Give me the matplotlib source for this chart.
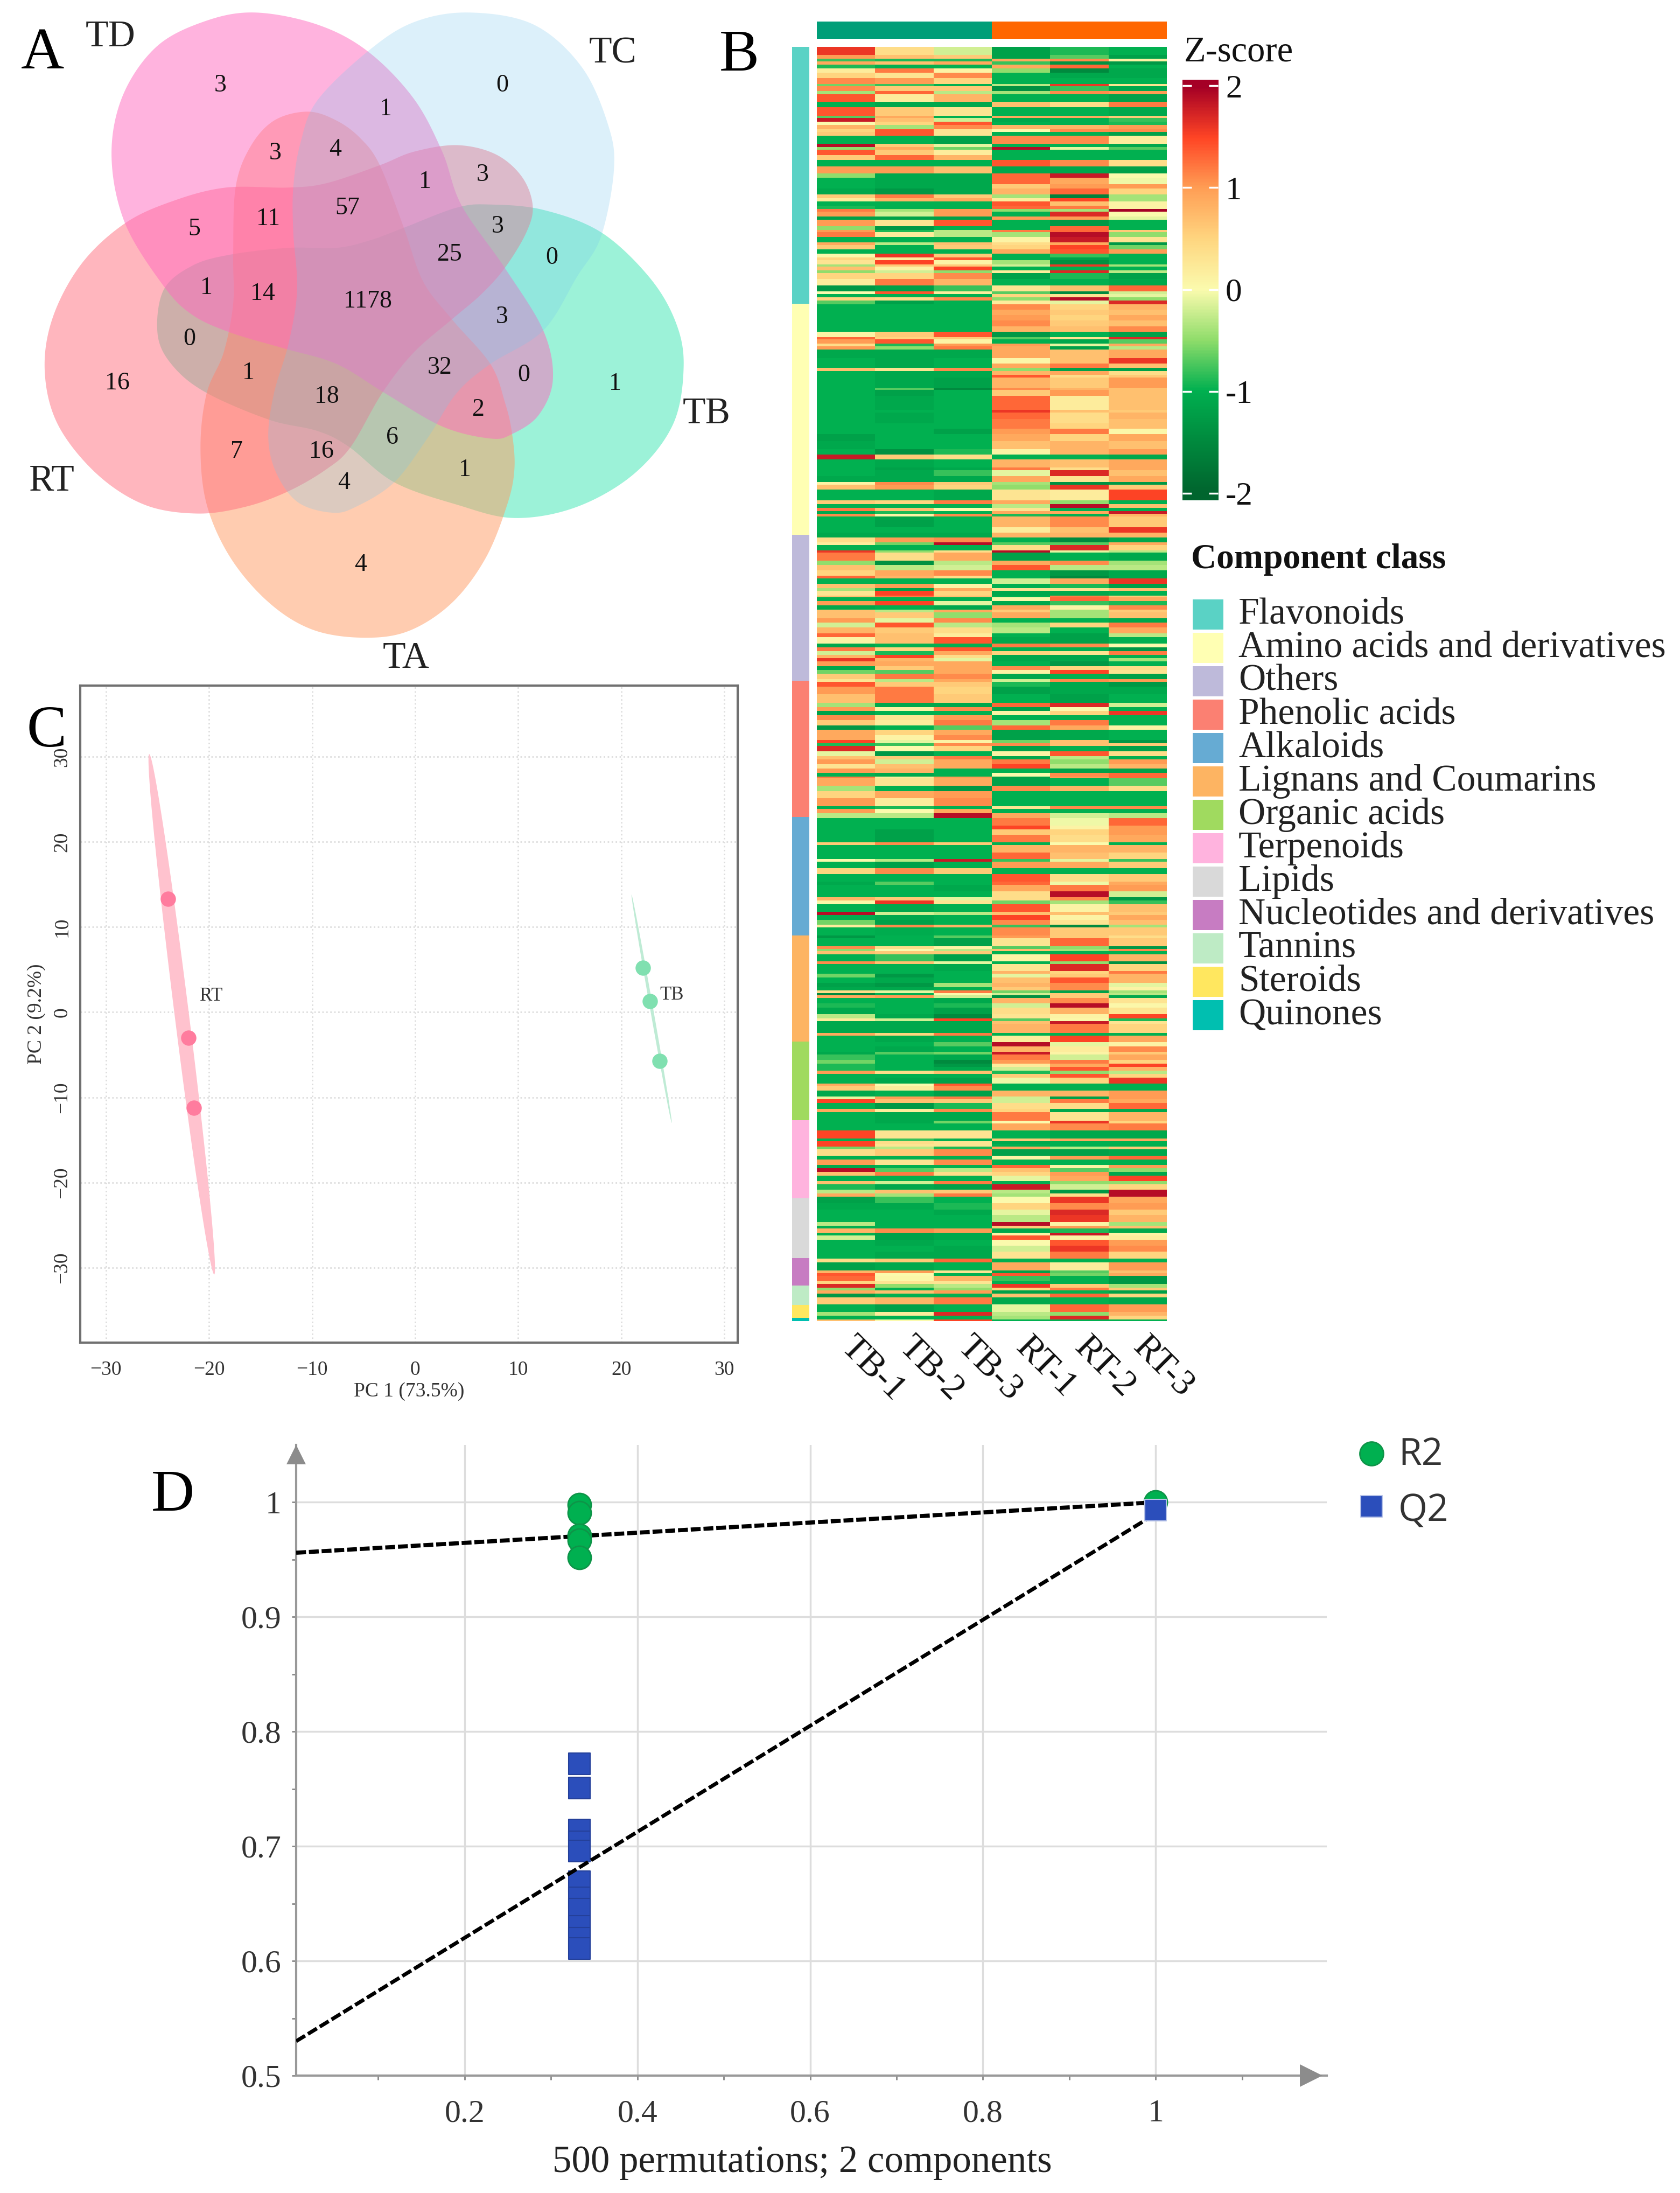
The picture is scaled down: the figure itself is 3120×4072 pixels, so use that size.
import numpy as np
import matplotlib
matplotlib.use("Agg")
import matplotlib.pyplot as plt
from matplotlib.colors import LinearSegmentedColormap, Normalize
from matplotlib.patches import Polygon, Rectangle
from matplotlib.ticker import FixedLocator

plt.rcParams['font.family'] = ['Liberation Serif', 'DejaVu Serif']
W, H = 3120, 4072
fig = plt.figure(figsize=(W/100, H/100), dpi=100, facecolor='white')

def px_axes(x0, y0, x1, y1, **kw):
    return fig.add_axes([x0/W, 1-y1/H, (x1-x0)/W, (y1-y0)/H], **kw)

# ------------------------------------------------------------------ Panel A
venn_sets = ['TB', 'TA', 'RT', 'TD', 'TC']
venn_colors = {'TD': '#FF69BE', 'TC': '#77C7EF', 'TB': '#3BE6B2', 'RT': '#FF6E7E', 'TA': '#FF9B62'}
venn_alpha = {'TD': 0.5, 'TC': 0.25, 'TB': 0.5, 'RT': 0.5, 'TA': 0.5}
outline_TD = [(530,28),(660,55),(765,115),(860,220),(920,340),(960,460),(1050,600),(1130,740),(1150,850),(1120,930),(1065,972),(1020,982),(920,955),(800,880),(700,815),(590,780),(480,745),(400,705),(340,640),(260,500),(232,350),(255,215),(325,105),(425,48)]
outline_TC = [(975,28),(1110,55),(1210,150),(1265,280),(1277,380),(1250,530),(1200,620),(1130,740),(1020,815),(950,880),(890,980),(820,1080),(740,1135),(690,1148),(620,1125),(575,1060),(558,980),(570,880),(600,770),(618,650),(610,520),(610,420),(625,320),(660,225),(765,115),(860,50)]
outline_RT = [(93,830),(120,950),(200,1060),(300,1130),(410,1150),(510,1135),(600,1100),(680,1050),(730,1000),(795,880),(860,790),(940,715),(1000,660),(1050,600),(1095,520),(1108,460),(1085,395),(1030,345),(950,325),(860,340),(790,370),(680,410),(600,420),(470,420),(360,450),(260,500),(170,590),(110,710)]
outline_TB = [(1422,820),(1400,950),(1320,1060),(1200,1135),(1070,1160),(950,1130),(820,1080),(725,1000),(660,965),(560,940),(430,880),(360,820),(328,750),(340,650),(400,595),(480,570),(600,555),(700,555),(770,538),(840,510),(950,465),(1020,458),(1130,470),(1250,520),(1350,620),(1405,720)]
outline_TA = [(755,1428),(850,1413),(940,1350),(1010,1250),(1055,1130),(1070,1050),(1065,970),(1050,900),(1020,815),(940,715),(880,630),(840,510),(790,370),(750,310),(700,270),(640,250),(570,270),(520,330),(490,420),(485,570),(485,680),(465,790),(430,880),(417,1000),(430,1130),(480,1250),(560,1350),(650,1410)]
venn_outlines = {'TD': outline_TD, 'TC': outline_TC, 'RT': outline_RT, 'TB': outline_TB, 'TA': outline_TA}
venn_counts = [3,0,1,3,4,1,3,57,11,5,3,25,0,1,14,1178,3,0,32,1,0,16,1,18,2,6,7,16,1,4,4]
venn_count_at = [(458,192),(1045,192),(802,245),(573,343),(697,335),(884,407),(1004,392),(723,466),(558,490),(404,513),(1035,507),(935,570),(1148,577),(430,645),(547,658),(765,675),(1044,710),(394,760),(914,823),(517,835),(1089,840),(244,858),(1280,860),(680,888),(995,918),(816,980),(492,1012),(669,1012),(967,1053),(715,1082),(750,1265)]
venn_label_at = {'TD': (230,84), 'TC': (1275,120), 'TB': (1470,928), 'RT': (108,1078), 'TA': (845,1475)}

def smooth_closed(pts, n=16):
    p = np.array(pts, float)
    out = []
    m = len(p)
    for i in range(m):
        p0, p1, p2, p3 = p[(i-1) % m], p[i], p[(i+1) % m], p[(i+2) % m]
        for t in np.linspace(0, 1, n, endpoint=False):
            out.append(0.5*((2*p1) + (-p0+p2)*t + (2*p0-5*p1+4*p2-p3)*t*t + (-p0+3*p1-3*p2+p3)*t**3))
    return np.array(out)

ov = fig.add_axes([0, 0, 1, 1], zorder=5)
ov.set_xlim(0, W); ov.set_ylim(H, 0); ov.axis('off'); ov.patch.set_alpha(0)
ZX, ZY = 1/1.12, 1/1.206
for s in venn_sets:
    xy = smooth_closed(venn_outlines[s]) * [ZX, ZY]
    ov.add_patch(Polygon(xy, closed=True, fc=venn_colors[s], ec='none', alpha=venn_alpha[s]))
for c, (x, y) in zip(venn_counts, venn_count_at):
    ov.text(x*ZX, y*ZY, str(c), fontsize=33, ha='center', va='center', color='#111111')
for s, (x, y) in venn_label_at.items():
    ov.text(x*ZX, y*ZY, s, fontsize=50, ha='center', va='center', color='#222222')

panel_labels = [('A', 79, 100), ('B', 1373, 104), ('C', 86, 1359), ('D', 321, 2778)]
for t, x, y in panel_labels:
    ov.text(x, y, t, fontsize=80, ha='center', va='center', color='black')

# ------------------------------------------------------------------ Panel B
samples = ['TB-1', 'TB-2', 'TB-3', 'RT-1', 'RT-2', 'RT-3']
# each band: rows, then z-score of TB-1, TB-2, TB-3, RT-1, RT-2, RT-3
bands_1 = [
(45,1.6,.4,-.2,-1.2,-.9,-1),(20,1.0,.7,.6,-1.2,-.7,-1.2),(15,-.8,-.9,-.9,.9,1.1,.1),(20,.9,.7,.9,-.8,-1.4,-1.3),
(20,-.9,-1,-1,.9,1.3,-1),(25,.2,1.2,.1,-.5,-1.5,-1.1),(30,.5,.3,1.1,-1,-1.1,-1.1),(32,1.1,1.0,.5,-1,-1,-1),
(13,-.6,-.8,-1,-.3,1.6,.3),(25,1.1,.6,.6,-1.4,-.8,-1.1),(20,-.4,1.3,-.3,-.4,1.1,1.0),(40,1.4,.2,.8,-1,-1,-1.2),
(30,-1,-1.1,-1.1,.7,.4,1.2),(50,1.4,.6,.3,-1,-1,-1.1),(13,-.7,.9,-1,.9,.9,.6),(20,1.8,.7,-.2,-1.1,-1,-.8),
(17,0,.5,1.4,-1,-1,-.9),(25,.8,-.4,1.1,.8,.8,1.0),(15,.5,1.4,.3,0,1.1,1.1),(20,.6,1.4,.3,-1,-1,-1.2),
(45,-1,-1,-1.2,1.1,1.1,.2),(20,1.9,.6,-.1,-1,-1,-1.1),(15,-.5,.9,-.6,1.9,-.1,-.7),(30,1.4,.6,.2,-1,-1,-1),
(27,.6,1.3,.8,-1,-1,-1),(36,-1,-1,-1,1.4,1.1,.4),(37,1.0,1.0,.7,-1.1,-1.1,-1.2),(25,-.5,-1.1,-1.1,1.3,1.8,0),
(35,-1,-1.1,-1.1,1.3,.9,-.05),(25,-1,-1.1,-1.1,.6,1.0,1.0),(32,-1.1,-1.3,-1.1,.8,1.3,.5),(23,.6,1.2,.6,-.4,-1.6,-.4),
(17,.2,.8,.9,.2,1.5,-.4),(23,-1,-1,-1,1.4,.7,.1),(20,-.9,-1,-1,1.3,1.2,.1),(15,1.2,-.4,1.0,-.5,-.4,2),
(25,1.0,-.2,1.0,-1,1.7,0),(20,-1.2,-1.2,-1.2,1.0,1.0,-.1),(35,1.0,.3,1.4,-1,-1.3,-1),(20,-.5,-1.3,-1,-1,1.3,-1),
]
bands_2 = [
(12,1.0,-.9,-.3,1.2,1.3,.6),(28,1.2,.2,-.3,-.4,1.9,-.5),(30,-1,-1,-1,.1,1.8,.3),(15,.9,-.3,.7,.4,.9,-1.3),
(25,.6,-1,.6,.5,1.5,-.6),(23,-1,-1,-1,.9,1.4,1.0),(22,.05,1.6,.6,-1,-.8,-1),(15,.5,.2,1.4,-1,-1.2,-1),
(23,.3,1.5,.1,-.4,-1.4,-1),(12,-.4,.6,.6,-.2,1.6,-.4),(23,.7,.1,1.5,-1,-1,-1),(15,-.5,-.2,-.5,.2,1.7,-.3),
(32,.5,.5,1.1,-1.2,-.9,-1.2),(35,.2,1.2,.8,-1,-1,-1.1),(35,-1.3,-1.2,-.8,.3,.7,1.3),(15,0,1.4,.2,-.7,-1.5,-.2),
(18,-1,-1,-1,.5,.3,-.1),(17,.5,.4,1.1,-.5,1.9,-.5),(20,-.7,-1.2,-1,.2,-.1,1.7),(30,-1,-1,-1,1.1,.5,.8),
(30,-1,-1,-1,.9,.6,.7),(30,-1,-1,-1,1.0,.5,.9),(35,-1,-1,-1,1.1,.6,.7),(30,-1,-1,-1,.8,.7,1.1),
(28,.1,.6,1.4,-1.3,-1,-1.2),(14,1.3,.5,.6,-.7,.3,1.7),(23,1.0,1.4,.1,-1,-1.1,-.7),(15,.4,-.9,1.0,1.0,-.1,.9),
(18,1.0,-.5,1.2,.9,-1.2,-.3),(47,-1.1,-1.1,-1.1,.9,.7,.9),(30,-1,-1.1,-1,.05,.7,1.6),(25,-1,-1.1,-1,.9,1.2,.7),
(17,.7,.3,1.1,-.5,-1.2,-1.2),(23,-1,-1.1,-1.1,.8,.9,.4),(15,-1,-1.1,-1.1,1.4,.4,.6),(55,-1,-1.1,-1.2,.8,.6,1.0),
(13,-1,-.7,-1.5,1.1,.8,.7),(32,-1,-1.2,-1,.6,1.0,.7),(80,-1,-1.1,-1,1.3,.2,.7),(15,-1,-1,-1,1.6,.7,.6),
]
bands_3 = [
(35,-1,-1.1,-1,1.3,.4,.8),(25,-1,-1.1,-1,1.2,.4,.7),(30,-1,-1,-1,1.2,.5,.7),(30,-1,-1,-1.2,1.0,1.2,.05),
(40,-1.2,-1,-1,.9,.5,.9),(45,-1.1,-1,-1,.7,.8,.7),(30,-1,-1.4,-.9,.1,.8,1.0),(27,1.8,.6,.4,-1,-1,-1.1),
(43,-1,-1.1,-1,.8,.7,.9),(17,-1,-1.2,-1.1,1.2,.4,.9),(33,-1,-1.1,-.8,-.1,1.7,.7),(33,-1.1,-1.1,-1.1,.9,.3,.9),
(15,.1,1.1,.6,-.4,-1.4,-1.3),(27,.7,1.0,.5,-.5,1.6,.6),(60,-1,-1,-1.1,.3,.2,1.5),(20,.6,.5,1.2,.9,-.5,-1),
(20,-1,-1,-1,-.3,1.9,.7),(18,1.2,.7,0,.3,-1,-1),(17,-1.1,-.9,-1,.9,.9,1.8),(15,1.1,.1,1.1,-.9,-1,.8),
(60,-1,-1.2,-1,.8,1.1,.6),(30,-1,-1,-1,.2,.7,1.6),(25,-1.1,-1.1,-1.1,.8,.8,.8),(30,.4,1.0,1.1,-1,-1.5,-1.1),
(15,.2,-.6,1.9,-.7,-.7,.9),(30,-1,-1,-1,.4,1.7,.5),(12,1.6,-.5,.4,1.9,-.1,-.3),(43,1.2,.4,.9,-1.2,-1,-1.1),
(25,-.5,-1.4,-.3,.9,1.1,-.4),(30,.7,-.3,-.2,1.4,-.3,-.3),(30,.5,.9,1.1,-1,-1.3,-1.1),(15,1.3,.8,.4,-1,-1.5,-1.1),
(30,-1,-1,-1,-.2,.9,1.6),(25,.7,1.0,.1,-1,-.9,-1.2),(15,-.4,-1.2,.9,.3,.3,.7),(25,.3,1.5,.5,-1.1,-1.1,-1),
]
bands_4 = [
(10,.7,1.2,.7,-1,1.2,.6),(20,-1,-1,-1,.05,1.3,.9),(25,1.0,1.5,-.1,-1.1,-.8,-.9),(23,-1.1,-1,-1.1,.9,.1,1.1),
(17,.7,-.3,.9,.6,-.4,.6),(33,.7,.6,-.5,.9,-.4,.7),(24,1.0,-.1,1.1,-1,-1,-1.1),(26,-.2,1.4,-.3,-.4,.5,1.2),
(34,.8,.6,.4,-.3,-1,.9),(20,1.3,.7,.2,-1,-1.2,-.3),(36,.1,.7,1.4,-1.1,-1.2,-1),(22,-1.1,-1,-1,1.2,1.1,0),
(20,1.2,.5,1.4,-1,-1,-1.3),(20,-.2,-.9,.9,.5,.3,1.2),(20,.8,1.5,.4,-1.1,-1.1,-1),(18,1.6,.8,-.1,-1.1,-1.1,-.4),
(27,1.0,.9,.9,-1,-1.3,-1),(20,-1.1,.6,.9,1.1,.5,.4),(20,-.6,-.7,.9,.1,1.5,.3),(30,.6,1.2,1.1,-1.1,-1,-1.2),
(15,.3,-.3,.9,-.2,1.1,1.0),(30,1.4,.6,.6,-.9,-1.1,-1.3),(40,1.0,1.2,.5,-1.2,-1.1,-1.1),(50,.7,1.2,.6,-1,-1.2,-1),
(22,-.4,-1.1,-1.1,1.3,1.7,-.2),(23,1.0,.1,1.1,-1.2,0,-1),(23,-1.2,-1,-1,.1,.5,1.6),(27,1.1,.3,1.0,-1,-1,-1),
(30,.6,.2,1.2,-.4,1.2,-1),(25,-1.3,-1,-.7,1.3,.9,.1),(30,.9,.5,.9,-1.2,-1.1,-1),(25,.9,.1,1.1,-1.2,-1.1,-1),
(20,1.5,-.1,.1,-.6,.7,-1.3),(15,-.9,-.8,1.1,1.1,.7,.6),(30,1.7,0,.5,-1.2,-1,-1.2),(25,-.1,-1.3,-1,.1,1.4,.4),
(20,.7,.6,1.2,-1.1,-.3,-1),(25,1.0,-.2,.9,1.2,-.5,1.0),(25,.3,.7,.9,1.5,-.3,.8),(25,1.0,.8,-1,-1,-1.2,-1.2),
(20,-1,-1.1,-1,0,1.1,1.3),(10,1.2,.2,1.0,-1.2,1,1.3),
]
bands_5 = [
(40,.9,.3,.9,-1.2,-1,-.7),(30,-.4,-1,-1.3,1.1,.8,.4),(40,.5,.9,1.0,-1,-1,-1),(45,1.0,.2,1.1,-1,-1,-1),
(15,-1,-.9,-1,.3,1.1,1.1),(23,1.0,0,.9,-1,-1,-1),(27,-.3,-.3,1.9,.9,-.2,-.3),(45,-1,-1,-1,1.2,-.05,1.3),
(20,-1,-1,-1,1.5,.1,1.0),(30,-1,-1.2,-1,.6,.5,1.0),(43,-1,-1.2,-1,1.2,.4,.9),(15,.6,1.1,.6,-1,0,-1),
(42,-1,-1,-1,.8,.8,.8),(35,-1,-1,-1,1.3,.7,.5),(15,0,-.3,1.8,-.8,-.1,-.8),(35,-1,-1.2,-1,1.0,.9,.6),
(35,.5,1.1,.6,-1,-1,-1),(40,-1,-1,-1,1.4,.4,.6),(20,-1.1,-.7,-1,1.3,-.05,.9),(35,-1,-1,-1.1,.9,1.2,1.0),
(32,-1,-1,-1,.4,1.9,-.2),(18,.8,.6,-.1,.4,1.1,-1.3),(22,.05,1.6,.3,-.6,-.4,-.8),(43,-1,-1.1,-1,1.4,.1,.7),
(17,1.9,-.2,-.3,.7,.7,.6),(28,-1,-1.1,-1,1.5,.1,.9),(25,-.6,-1.2,-1,1.1,.3,.7),(15,.2,1.1,.8,-.8,-1.5,-.4),
(45,-1,-1.05,-1,1.1,.6,.6),(15,-1.3,-1,-.7,1.0,.6,.4),(45,-1,-1,-1.2,.3,1.3,.6),(15,1.1,.4,.1,-.7,-.5,-1.3),
(12,-.5,0,-.3,.7,-.4,1.1),(18,.7,.6,.6,-1,-1,-1),(40,-1,-.8,-1.2,.1,1.5,.8),
]
bands_6 = [
(15,1.1,.7,-.1,-1,-.5,-1.4),(40,-1,-1,-1.1,.3,1.7,.5),(15,-1,-1,-1,.8,.5,1.2),(20,-.6,-1.3,-1,-.1,.6,.8),
(30,-1,-1.1,-1,.7,1.4,.8),(25,-1.2,-1.3,-.4,.8,1.1,-.1),(18,-1.1,-1.1,-1,.6,1.1,.1),(15,.4,-.1,1.2,-.6,-1.2,-.4),
(12,-1.5,-1,0,-.2,.6,-.3),(15,.9,1.0,-.2,-1.4,.6,-1.1),(30,-1,-1,-1.1,.8,1.1,.3),(25,-.9,-1,-.9,-.2,1.9,.05),
(35,-1.1,-1,-1.2,.4,.8,.3),(25,-.3,-1.1,-1.5,.3,.1,1.5),(15,.2,-.2,1.5,-.7,.05,-.9),(15,-1.1,-1.1,-1.1,.7,1.8,.3),
(50,-1.1,-1.1,-1.1,.8,1.2,.5),(15,.9,.5,1.2,-1,-1,-1),(35,-1,-1.1,-1,.2,1.5,.9),(25,-1,-1,-.7,1.9,-.1,.1),
(30,-1,-1.1,-1,.8,.2,1.1),(15,-1.1,-.7,-.6,1.8,.1,.6),(30,-.8,-1,-1.1,1.2,-.2,.9),(20,-.6,-1,-1.5,1.0,1.2,.5),
(20,-.9,-1,-1.3,.2,.9,1.5),(20,-.9,-1,-1.1,-.2,1.4,.8),(18,1.0,.4,.7,-.9,-.5,-.3),(22,-1,-1,-1,.6,1.4,.5),
(32,-1,-1.1,-1.2,-.05,.5,1.6),(13,.9,0,1.4,-1,-1,-1),(25,.6,.2,1.1,-1,-1,-1),(35,-1.1,-1,-1.2,.8,.8,1.0),
(15,-.1,1.0,1.2,-.2,-1.2,1.0),(20,1.5,.7,.6,-.2,1.2,.9),(35,-1,-1.3,-.9,.4,.4,1.3),(17,.9,.2,1.1,.5,-1.1,-1.1),
(48,-1,-1.1,-1.1,1.2,.3,.8),(15,-1,-1.1,-.6,0,1.6,.5),(40,-1,-1,-1,.9,1.1,1.2),(45,1.5,.3,.3,-1,-1.1,-1.1),
(15,-1,-.8,-1,.6,.9,.9),(15,1.5,.4,.3,-1.1,-1,-1),
]
bands_7 = [
(15,1.5,.3,.3,-1,-1,-1),(15,-.6,-.3,-.9,.9,-.3,.6),(35,.4,.6,1.1,-1.2,-1.2,-1.1),(20,-1,-1,-1,.1,1.0,1.3),
(30,1.0,.3,1.1,-1,-1,-1),(20,-1.1,-1,-1,1.3,.1,1.0),(20,1.9,-.7,-.3,.7,-.7,-.5),(20,.7,1.2,.4,.5,1.0,-1.1),
(30,-1,-1,-1,-.1,.9,1.5),(18,.7,-.2,1.2,-1,-.5,-.5),(32,-.9,-1.1,-1.2,1.8,-.2,.5),(20,-.3,.7,.6,-.3,-1.3,1.9),
(18,.9,-.4,1.2,-.4,.4,1.9),(37,-1.2,-.8,-1,0,1.6,.9),(35,-1.1,-1.1,-.9,.5,1.1,1.0),(30,-1,-1,-1.1,-.1,1.7,.6),
(40,-1,-1,-1,-.3,1.6,.8),(20,-.3,-1,-1,1.9,.1,-.4),(15,-1,-1,-1,.6,1.0,.7),(25,.8,1.1,1.0,-1.1,-.9,-1.1),
(15,-1,-1.2,-1.1,.1,1.8,.1),(23,-.2,-1.2,-1.1,1.4,.1,.2),(32,-1,-1.1,-1,0,1.4,1.0),(35,-1,-1,-1.1,-.2,1.6,1.1),
(40,-1,-1.1,-1.1,.3,1.2,.5),(20,.4,.6,1.3,-1,-1,-1),(45,-1.2,-1.1,-1,.9,.2,1.0),(15,.8,1.0,.3,-1.2,-.7,.7),
(15,1.4,0,-1,1.4,-.6,.9),(30,1.3,.05,.8,-.8,-1,-1.3),(15,.5,.3,.3,-1,-1,-1.3),(20,1.7,-.5,-.3,1.6,.6,-.4),
(15,-.5,-1,-.5,.5,1.2,.6),(20,.9,.7,1.0,-1.2,-1,-1.2),(20,-1.3,-1,-1,.7,1.3,.5),(38,.6,.8,1.2,-1.1,-1,-1.1),
(42,-1,-1.2,-1,-.1,1.3,1.0),(22,-.4,.2,1.7,-.3,-.5,.8),(20,-1,-1,-1,-.4,1.7,.5),(10,.7,0,1.5,-1,-1,-1),
]
band_table = np.array(bands_1 + bands_2 + bands_3 + bands_4 + bands_5 + bands_6 + bands_7, float)
band_rows, z_values = band_table[:, 0], band_table[:, 1:]

classes = ['Flavonoids', 'Amino acids and derivatives', 'Others', 'Phenolic acids', 'Alkaloids',
           'Lignans and Coumarins', 'Organic acids', 'Terpenoids', 'Lipids',
           'Nucleotides and derivatives', 'Tannins', 'Steroids', 'Quinones']
class_rows = np.array([477, 429, 271, 253, 220, 197, 146, 145, 111, 51, 36, 24, 6]) * 3
class_colors = ['#5AD2C5', '#FFFFB3', '#BEBADA', '#FB8072', '#66ABD3', '#FDB462', '#A0DA5F',
                '#FFB3DE', '#D9D9D9', '#C77CC2', '#BEEBC5', '#FFE75F', '#00BFB0']
group_colors = ['#009E78', '#FF6600']

z_cmap = LinearSegmentedColormap.from_list('z', [
    (0.0, '#00652E'), (0.125, '#008A3E'), (0.25, '#00B050'), (0.375, '#90DD6B'), (0.5, '#FBFBAE'),
    (0.625, '#FFD680'), (0.75, '#FF9E55'), (0.875, '#FF4525'), (1.0, '#A50026')])
norm = Normalize(-2, 2)

hm = px_axes(1517, 87, 2167, 2453)
edges = np.concatenate([[0], np.cumsum(band_rows)])
hm.pcolormesh(np.arange(7), edges, z_values, cmap=z_cmap, norm=norm, shading='flat')
hm.set_ylim(edges[-1], 0); hm.set_xlim(0, 6)
for sp in hm.spines.values():
    sp.set_visible(False)
hm.set_yticks([])
hm.set_xticks(np.arange(6)+0.5)
hm.set_xticklabels(samples, rotation=-45, rotation_mode='anchor', ha='left', va='center', fontsize=48, color='#111111')
hm.tick_params(axis='x', length=0, pad=28)

ann = px_axes(1517, 40, 2167, 72)
ann.barh(0, [3, 3], left=[0, 3], height=1, color=group_colors)
ann.set_xlim(0, 6); ann.set_ylim(-.5, .5); ann.axis('off')

cb = px_axes(1471, 87, 1503, 2453)
cb.bar(0, class_rows, bottom=np.concatenate([[0], np.cumsum(class_rows)[:-1]]), width=1, color=class_colors)
cb.set_xlim(-.5, .5); cb.set_ylim(class_rows.sum(), 0); cb.axis('off')

# colour bar
cbar = px_axes(2196, 148, 2262, 929)
zgrad = np.linspace(-2.07, 2.06, 400)[:, None]
cbar.imshow(zgrad, cmap=z_cmap, norm=norm, origin='lower', aspect='auto', extent=[0, 1, -2.07, 2.06])
cbar.set_xticks([])
z_ticks = [-2, -1, 0, 1, 2]
cbar.set_yticks(z_ticks)
cbar.set_yticklabels(['-2', '-1', '0', '1', '2'], fontsize=44, color='#111111')
cbar.yaxis.tick_right()
cbar.tick_params(axis='y', left=True, right=True, direction='in', color='white', width=2.5, length=12, pad=10)
for sp in cbar.spines.values():
    sp.set_visible(False)
ov.text(2300, 97, 'Z-score', fontsize=48, ha='center', va='center', color='#111111')

# class legend
ov.text(2212, 1039, 'Component class', fontsize=47, fontweight='bold', ha='left', va='center', color='#111111')
for i, (c, col) in enumerate(zip(classes, class_colors)):
    y = 1141 + i*62
    ov.add_patch(Rectangle((2215, y-28), 57, 56, fc=col, ec='none'))
    ov.text(2300, y, c, fontsize=50, ha='left', va='center', color='#222222')

# ------------------------------------------------------------------ Panel C
rt_pc1 = [-24.0, -22.0, -21.5]
rt_pc2 = [13.3, -3.0, -11.2]
tb_pc1 = [22.1, 22.8, 23.7]
tb_pc2 = [5.2, 1.3, -5.7]
rt_tips = [(-25.8, 30.3), (-19.5, -30.8)]
tb_tips = [(21.0, 13.8), (24.9, -13.0)]
rt_ellipse_width, tb_ellipse_width = 1.4, 0.3
pc_ticks = [-30, -20, -10, 0, 10, 20, 30]

pc = px_axes(149, 1273, 1370, 2493)
pc.set_xlim(-32.5, 31.3); pc.set_ylim(-38.8, 38.35)
pc.grid(True, ls=':', lw=2, color='#DDDDDD')
pc.set_axisbelow(True)
def tip_ellipse(tips, width):
    a, b = np.array(tips[0]), np.array(tips[1])
    t = np.linspace(0, 2*np.pi, 200)
    c, d = (a+b)/2, (a-b)/2
    return np.c_[c[0]+d[0]*np.cos(t)+width/2*np.sin(t), c[1]+d[1]*np.cos(t)]
pc.add_patch(Polygon(tip_ellipse(rt_tips, rt_ellipse_width), fc='#FFC2CE', ec='none'))
pc.add_patch(Polygon(tip_ellipse(tb_tips, tb_ellipse_width), fc='#BFEBD5', ec='none'))
pc.scatter(rt_pc1, rt_pc2, s=420, color='#FF7C9E', zorder=3, lw=0)
pc.scatter(tb_pc1, tb_pc2, s=420, color='#80E0B0', zorder=3, lw=0)
pc.text(-19.8, 1.9, 'RT', fontsize=25, ha='center', va='center', color='#333333')
pc.text(24.9, 2.0, 'TB', fontsize=25, ha='center', va='center', color='#333333')
pc.set_xticks(pc_ticks); pc.set_yticks(pc_ticks)
pc.set_xticklabels([str(v).replace('-', '\u2212') for v in pc_ticks], fontsize=27, color='#333333')
pc.set_yticklabels([str(v).replace('-', '\u2212') for v in pc_ticks], fontsize=27, color='#333333', rotation=90, va='center')
pc.tick_params(axis='x', length=0, pad=24)
pc.tick_params(axis='y', length=0, pad=12)
pc.set_xlabel('PC 1 (73.5%)', fontsize=27, color='#333333', labelpad=4)
pc.set_ylabel('PC 2 (9.2%)', fontsize=27, color='#333333', labelpad=9)
for sp in pc.spines.values():
    sp.set_color('#707070'); sp.set_linewidth(3)

# ------------------------------------------------------------------ Panel D
perm_x = 0.333
r2_perm = [0.998, 0.991, 0.971, 0.967, 0.952]
q2_perm = [0.772, 0.751, 0.714, 0.704, 0.696, 0.669, 0.655, 0.645, 0.63, 0.62, 0.611]
r2_real, q2_real = 1.0, 0.993
r2_line_x, r2_line_y = [0.005, 1.0], [0.956, 1.0]
q2_line_x, q2_line_y = [0.005, 1.0], [0.53, 0.99]
d_xticks = [0.2, 0.4, 0.6, 0.8, 1.0]
d_yticks = [0.5, 0.6, 0.7, 0.8, 0.9, 1.0]
d_fmt = lambda v: '1' if v == 1 else f'{v:.1f}'
GREEN, BLUE = '#00B050', '#2B4EBB'

d = px_axes(550, 2683, 2464, 3854)
d.set_xlim(0.005, 1.198); d.set_ylim(0.5, 1.05)
d.grid(True, which='major', color='#DDDDDD', lw=2.5)
d.set_axisbelow(True)
d.scatter([perm_x]*len(r2_perm), r2_perm, s=960, color=GREEN, edgecolor='#0E9448', lw=2, zorder=6)
d.scatter([1.0], [r2_real], s=960, color=GREEN, edgecolor='#0E9448', lw=2, zorder=3, clip_on=False)
d.scatter([perm_x]*len(q2_perm), q2_perm, s=860, marker='s', color=BLUE, edgecolor='#24409A', lw=1.5, zorder=3)
d.scatter([1.0], [q2_real], s=860, marker='s', color=BLUE, edgecolor='#B8C4E8', lw=1.5, zorder=7)
d.plot(r2_line_x, r2_line_y, color='black', lw=5.5, ls=(0, (2.4, 0.7)), zorder=5)
d.plot(q2_line_x, q2_line_y, color='black', lw=5, ls=(0, (2.8, 0.9)), zorder=5)
d.set_xticks(d_xticks); d.set_yticks(d_yticks)
d.set_xticklabels([d_fmt(v) for v in d_xticks], fontsize=43, color='#333333')
d.set_yticklabels([d_fmt(v) for v in d_yticks], fontsize=43, color='#333333')
d.xaxis.set_minor_locator(FixedLocator([0.1, 0.3, 0.5, 0.7, 0.9, 1.1]))
d.yaxis.set_minor_locator(FixedLocator([0.55, 0.65, 0.75, 0.85, 0.95]))
d.tick_params(which='both', length=6, width=2, color='#888888')
d.tick_params(axis='x', pad=26)
d.tick_params(axis='y', pad=14)
for s in ['top', 'right']:
    d.spines[s].set_visible(False)
for s in ['left', 'bottom']:
    d.spines[s].set_color('#999999'); d.spines[s].set_linewidth(3)
d.plot([0.985], [0], marker='>', ms=30, mew=0, color='#8C8C8C', transform=d.transAxes, clip_on=False, zorder=6)
d.plot([0], [0.985], marker='^', ms=26, mew=0, color='#8C8C8C', transform=d.transAxes, clip_on=False, zorder=6)
ov.text(1490, 4016, '500 permutations; 2 components', fontsize=51, ha='center', va='center', color='#222222')

ov.scatter([2547], [2699], s=1000, color=GREEN, edgecolor='#0E9448', lw=2)
ov.scatter([2547], [2797], s=860, marker='s', color=BLUE, edgecolor='#B8C4E8', lw=1.5)
ov.text(2597, 2702, 'R2', fontsize=50, family='Open Sans', ha='left', va='center', color='#333333')
ov.text(2597, 2806, 'Q2', fontsize=50, family='Open Sans', ha='left', va='center', color='#333333')

fig.savefig('out.png', dpi=100, facecolor='white')
